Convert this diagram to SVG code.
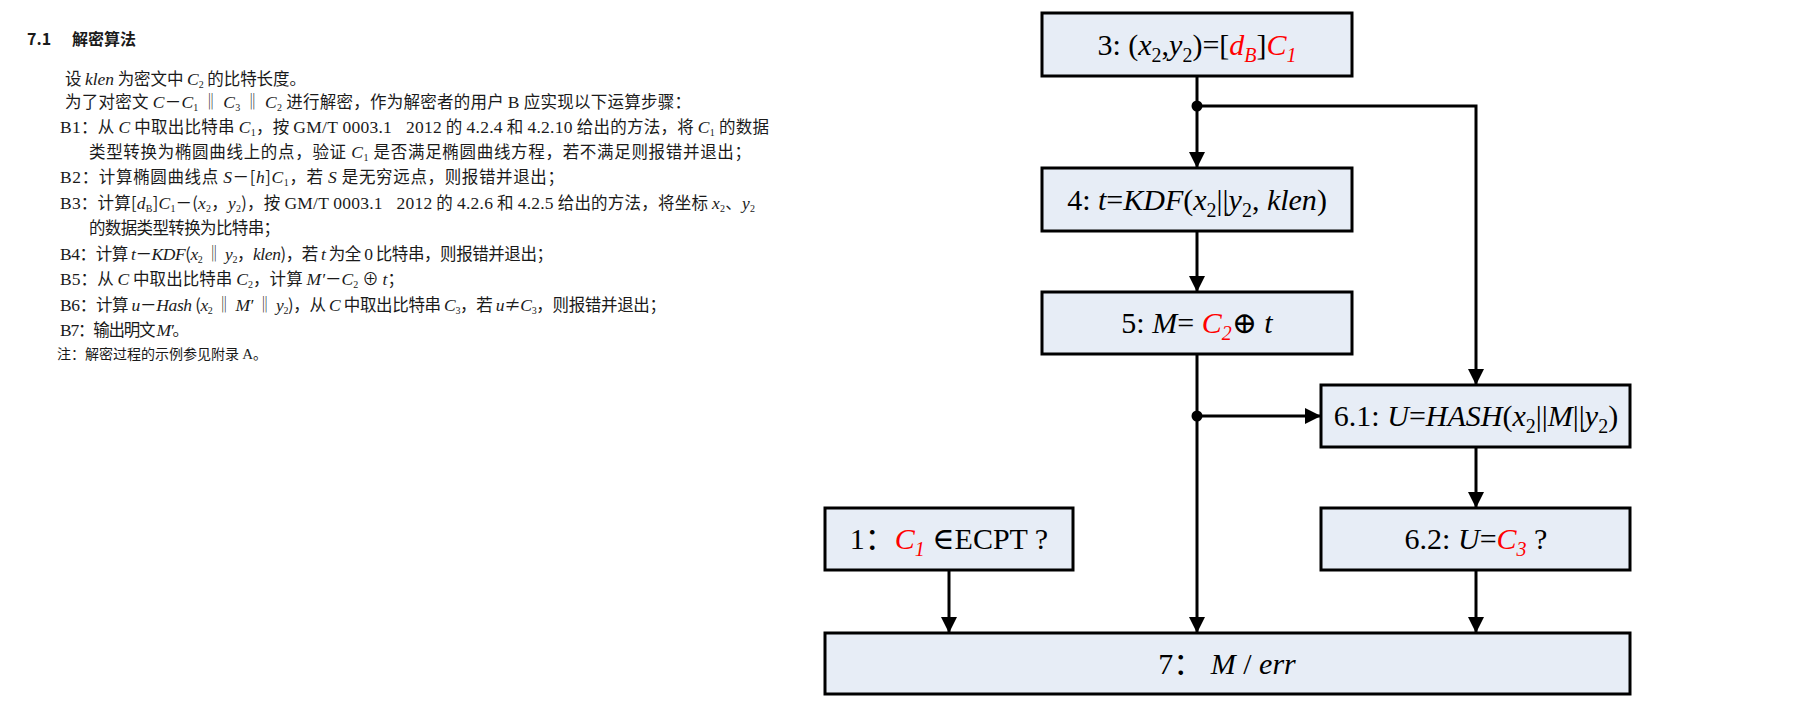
<svg xmlns="http://www.w3.org/2000/svg" width="1795" height="712" viewBox="0 0 1795 712">
<style>
.t{font-family:"Noto Sans CJK SC","Liberation Serif",sans-serif;font-size:16.5px;fill:#1a1a1a;}
.v{font-family:"Liberation Serif","DejaVu Serif",serif;font-style:italic;font-size:17.5px;}
.l{font-family:"Liberation Serif","DejaVu Serif",serif;font-size:17.5px;}
.s{font-family:"Liberation Serif",serif;font-size:10px;}
.ttl{font-family:"Noto Sans CJK SC",sans-serif;font-size:16px;font-weight:bold;fill:#1a1a1a;}
.box{fill:#E7EDF6;stroke:#000;stroke-width:3;}
.bt{font-family:"Liberation Serif","DejaVu Serif","Noto Sans CJK SC",serif;font-size:30px;fill:#000;}
.i{font-style:italic;}
.r{fill:#FF0000;}
.sb{font-size:20px;}
.c{fill:none;stroke:#000;stroke-width:3;}
</style>
<defs>
<marker id="arr" markerUnits="userSpaceOnUse" markerWidth="16" markerHeight="16" refX="16" refY="8" orient="auto">
<path d="M0,0 L16,8 L0,16 z" fill="#000"/>
</marker>
</defs>

<g id="doc-text">
<text class="ttl" x="27" y="45">7.1</text>
<text class="ttl" x="72" y="45">解密算法</text>
<text class="t" x="65" y="85" textLength="241" lengthAdjust="spacing">设 <tspan class="v">klen</tspan> 为密文中 <tspan class="v">C</tspan><tspan class="s" dy="3">2</tspan><tspan dy="-3"> 的比特长度。</tspan></text>
<text class="t" x="65" y="108" textLength="626" lengthAdjust="spacing">为了对密文 <tspan class="v">C</tspan>－<tspan class="v">C</tspan><tspan class="s" dy="3">1</tspan><tspan dy="-3"> ‖ </tspan><tspan class="v">C</tspan><tspan class="s" dy="3">3</tspan><tspan dy="-3"> ‖ </tspan><tspan class="v">C</tspan><tspan class="s" dy="3">2</tspan><tspan dy="-3"> 进行解密，作为解密者的用户 </tspan><tspan class="l">B</tspan> 应实现以下运算步骤：</text>
<text class="t" x="60" y="133" textLength="709" lengthAdjust="spacing"><tspan class="l">B1</tspan>：从 <tspan class="v">C</tspan> 中取出比特串 <tspan class="v">C</tspan><tspan class="s" dy="3">1</tspan><tspan dy="-3">，按 </tspan><tspan class="l">GM/T 0003.1&#160;&#160;&#160;2012</tspan> 的 <tspan class="l">4.2.4</tspan> 和 <tspan class="l">4.2.10</tspan> 给出的方法，将 <tspan class="v">C</tspan><tspan class="s" dy="3">1</tspan><tspan dy="-3"> 的数据</tspan></text>
<text class="t" x="89" y="158" textLength="662" lengthAdjust="spacing">类型转换为椭圆曲线上的点，验证 <tspan class="v">C</tspan><tspan class="s" dy="3">1</tspan><tspan dy="-3"> 是否满足椭圆曲线方程，若不满足则报错并退出；</tspan></text>
<text class="t" x="60" y="183" textLength="504" lengthAdjust="spacing"><tspan class="l">B2</tspan>：计算椭圆曲线点 <tspan class="v">S</tspan>－[<tspan class="v">h</tspan>]<tspan class="v">C</tspan><tspan class="s" dy="3">1</tspan><tspan dy="-3">，若 </tspan><tspan class="v">S</tspan> 是无穷远点，则报错并退出；</text>
<text class="t" x="60" y="209" textLength="695" lengthAdjust="spacing"><tspan class="l">B3</tspan>：计算[<tspan class="v">d</tspan><tspan class="s" dy="3">B</tspan><tspan dy="-3">]</tspan><tspan class="v">C</tspan><tspan class="s" dy="3">1</tspan><tspan dy="-3">－(</tspan><tspan class="v">x</tspan><tspan class="s" dy="3">2</tspan><tspan dy="-3">，</tspan><tspan class="v">y</tspan><tspan class="s" dy="3">2</tspan><tspan dy="-3">)，按 </tspan><tspan class="l">GM/T 0003.1&#160;&#160;&#160;2012</tspan> 的 <tspan class="l">4.2.6</tspan> 和 <tspan class="l">4.2.5</tspan> 给出的方法，将坐标 <tspan class="v">x</tspan><tspan class="s" dy="3">2</tspan><tspan dy="-3">、</tspan><tspan class="v">y</tspan><tspan class="s" dy="3">2</tspan></text>
<text class="t" x="89" y="234" textLength="191" lengthAdjust="spacing">的数据类型转换为比特串；</text>
<text class="t" x="60" y="260" textLength="493" lengthAdjust="spacing"><tspan class="l">B4</tspan>：计算 <tspan class="v">t</tspan>－<tspan class="v">KDF</tspan>(<tspan class="v">x</tspan><tspan class="s" dy="3">2</tspan><tspan dy="-3"> ‖ </tspan><tspan class="v">y</tspan><tspan class="s" dy="3">2</tspan><tspan dy="-3">，</tspan><tspan class="v">klen</tspan>)，若 <tspan class="v">t</tspan> 为全 <tspan class="l">0</tspan> 比特串，则报错并退出；</text>
<text class="t" x="60" y="285" textLength="344" lengthAdjust="spacing"><tspan class="l">B5</tspan>：从 <tspan class="v">C</tspan> 中取出比特串 <tspan class="v">C</tspan><tspan class="s" dy="3">2</tspan><tspan dy="-3">，计算 </tspan><tspan class="v">M′</tspan>－<tspan class="v">C</tspan><tspan class="s" dy="3">2</tspan><tspan dy="-3"> ⊕ </tspan><tspan class="v">t</tspan>；</text>
<text class="t" x="60" y="311" textLength="606" lengthAdjust="spacing"><tspan class="l">B6</tspan>：计算 <tspan class="v">u</tspan>－<tspan class="v">Hash</tspan> (<tspan class="v">x</tspan><tspan class="s" dy="3">2</tspan><tspan dy="-3"> ‖ </tspan><tspan class="v">M′</tspan> ‖ <tspan class="v">y</tspan><tspan class="s" dy="3">2</tspan><tspan dy="-3">)，从 </tspan><tspan class="v">C</tspan> 中取出比特串 <tspan class="v">C</tspan><tspan class="s" dy="3">3</tspan><tspan dy="-3">，若 </tspan><tspan class="v">u</tspan>≠<tspan class="v">C</tspan><tspan class="s" dy="3">3</tspan><tspan dy="-3">，则报错并退出；</tspan></text>
<text class="t" x="60" y="336" textLength="129" lengthAdjust="spacing"><tspan class="l">B7</tspan>：输出明文 <tspan class="v">M′</tspan>。</text>
<text class="t" x="57" y="359" style="font-size:14px" textLength="210" lengthAdjust="spacing">注：解密过程的示例参见附录 <tspan class="l" style="font-size:15px">A</tspan>。</text>
</g>

<g id="connectors">
<line class="c" x1="1197" y1="76" x2="1197" y2="168" marker-end="url(#arr)"/>
<polyline class="c" points="1197,106 1476,106 1476,385" marker-end="url(#arr)"/>
<line class="c" x1="1197" y1="231" x2="1197" y2="292" marker-end="url(#arr)"/>
<line class="c" x1="1197" y1="354" x2="1197" y2="633" marker-end="url(#arr)"/>
<line class="c" x1="1197" y1="416" x2="1321" y2="416" marker-end="url(#arr)"/>
<line class="c" x1="1476" y1="447" x2="1476" y2="508" marker-end="url(#arr)"/>
<line class="c" x1="1476" y1="570" x2="1476" y2="633" marker-end="url(#arr)"/>
<line class="c" x1="949" y1="570" x2="949" y2="633" marker-end="url(#arr)"/>
<circle cx="1197" cy="106" r="5.5" fill="#000"/>
<circle cx="1197" cy="416" r="5.5" fill="#000"/>
</g>

<g id="node-3">
<rect class="box" x="1042" y="13" width="310" height="63"/>
<text class="bt" x="1197" y="55" text-anchor="middle">3: (<tspan class="i">x</tspan><tspan class="sb" dy="7">2</tspan><tspan dy="-7">,</tspan><tspan class="i">y</tspan><tspan class="sb" dy="7">2</tspan><tspan dy="-7">)=[</tspan><tspan class="i r">d</tspan><tspan class="i r sb" dy="7">B</tspan><tspan dy="-7">]</tspan><tspan class="i r">C</tspan><tspan class="i r sb" dy="7">1</tspan></text>
</g>

<g id="node-4">
<rect class="box" x="1042" y="168" width="310" height="63"/>
<text class="bt" x="1197" y="210" text-anchor="middle">4: <tspan class="i">t</tspan>=<tspan class="i">KDF</tspan>(<tspan class="i">x</tspan><tspan class="sb" dy="7">2</tspan><tspan dy="-7">||</tspan><tspan class="i">y</tspan><tspan class="sb" dy="7">2</tspan><tspan dy="-7">, </tspan><tspan class="i">klen</tspan>)</text>
</g>

<g id="node-5">
<rect class="box" x="1042" y="292" width="310" height="62"/>
<text class="bt" x="1197" y="333" text-anchor="middle">5: <tspan class="i">M</tspan>= <tspan class="i r">C</tspan><tspan class="i r sb" dy="7">2</tspan><tspan dy="-7">⊕ </tspan><tspan class="i">t</tspan></text>
</g>

<g id="node-6-1">
<rect class="box" x="1321" y="385" width="309" height="62"/>
<text class="bt" x="1476" y="426" text-anchor="middle">6.1: <tspan class="i">U</tspan>=<tspan class="i">HASH</tspan>(<tspan class="i">x</tspan><tspan class="sb" dy="7">2</tspan><tspan dy="-7">||</tspan><tspan class="i">M</tspan>||<tspan class="i">y</tspan><tspan class="sb" dy="7">2</tspan><tspan dy="-7">)</tspan></text>
</g>

<g id="node-6-2">
<rect class="box" x="1321" y="508" width="309" height="62"/>
<text class="bt" x="1476" y="549" text-anchor="middle">6.2: <tspan class="i">U</tspan>=<tspan class="i r">C</tspan><tspan class="i r sb" dy="7">3</tspan><tspan dy="-7"> ?</tspan></text>
</g>

<g id="node-1">
<rect class="box" x="825" y="508" width="248" height="62"/>
<text class="bt" x="949" y="549" text-anchor="middle">1：<tspan class="i r">C</tspan><tspan class="i r sb" dy="7">1</tspan><tspan dy="-7"> ∈ECPT ?</tspan></text>
</g>

<g id="node-7">
<rect class="box" x="825" y="633" width="805" height="61"/>
<text class="bt" x="1227" y="674" text-anchor="middle">7： <tspan class="i">M</tspan> / <tspan class="i">err</tspan></text>
</g>
</svg>
